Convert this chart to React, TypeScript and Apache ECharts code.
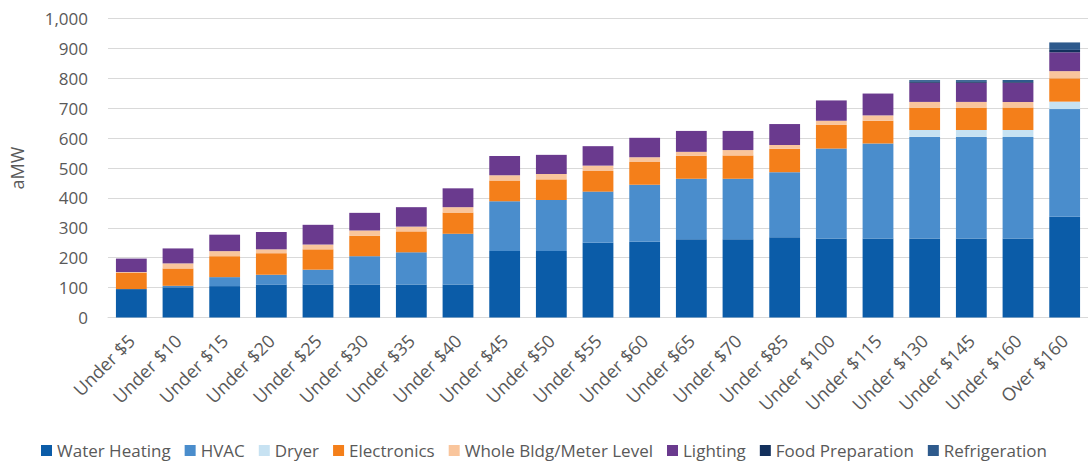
import React, { useEffect, useRef } from "react";
import * as echarts from "echarts";

const categories = [
  "Under $5", "Under $10", "Under $15", "Under $20", "Under $25", "Under $30", "Under $35",
  "Under $40", "Under $45", "Under $50", "Under $55", "Under $60", "Under $65", "Under $70",
  "Under $85", "Under $100", "Under $115", "Under $130", "Under $145", "Under $160", "Over $160",
];

const waterHeating = [95, 101, 105, 110, 110, 110, 110, 110, 222, 222, 250, 253, 262, 262, 268, 264, 264, 264, 264, 264, 337];
const hvac = [0, 5, 30, 33, 50, 95, 108, 170, 167, 171, 171, 191, 202, 202, 218, 301, 318, 340, 340, 340, 360];
const dryer = [0, 0, 0, 0, 0, 0, 0, 0, 0, 0, 0, 0, 0, 0, 0, 0, 0, 23, 23, 23, 25];
const electronics = [55, 58, 70, 72, 68, 68, 70, 71, 69, 69, 69, 76, 77, 78, 78, 79, 76, 75, 75, 75, 78];
const wholeBldg = [2, 17, 17, 13, 16, 18, 16, 18, 18, 18, 18, 16, 13, 18, 13, 14, 18, 19, 19, 19, 24];
const lighting = [45, 50, 55, 58, 66, 59, 65, 63, 64, 64, 65, 65, 70, 64, 70, 68, 73, 64, 64, 64, 63];
const foodPrep = [0, 0, 0, 0, 0, 0, 0, 0, 0, 0, 0, 0, 0, 0, 0, 0, 0, 3, 3, 3, 8];
const refrigeration = [0, 0, 0, 0, 0, 0, 0, 0, 0, 0, 0, 0, 0, 0, 0, 0, 0, 6, 6, 6, 25];

const yTicks = [0, 100, 200, 300, 400, 500, 600, 700, 800, 900, 1000];

const seriesDefs = [
  { name: "Water Heating", data: waterHeating, color: "#0B5CA8" },
  { name: "HVAC", data: hvac, color: "#4A8DCC" },
  { name: "Dryer", data: dryer, color: "#C7E2F2" },
  { name: "Electronics", data: electronics, color: "#F47F1A" },
  { name: "Whole Bldg/Meter Level", data: wholeBldg, color: "#F9C59C" },
  { name: "Lighting", data: lighting, color: "#6A3A8E" },
  { name: "Food Preparation", data: foodPrep, color: "#13305C" },
  { name: "Refrigeration", data: refrigeration, color: "#2E5A8C" },
];

const FONT = "'Open Sans', 'Noto Sans', sans-serif";
const TEXT = "#595959";

export default function App() {
  const ref = useRef<HTMLDivElement>(null);
  useEffect(() => {
    if (!ref.current) return;
    const chart = echarts.init(ref.current, null, { renderer: "svg" });
    chart.setOption({
      animation: false,
      backgroundColor: "#ffffff",
      textStyle: { fontFamily: FONT },
      grid: { left: 104, right: -3, top: 18.5, bottom: 145.5, containLabel: false },
      legend: {
        bottom: -1,
        left: "center",
        icon: "rect",
        itemWidth: 11,
        itemHeight: 11,
        itemGap: 14,
        textStyle: { color: TEXT, fontSize: 17, fontFamily: FONT },
        data: seriesDefs.map((s) => s.name),
      },
      xAxis: {
        type: "category",
        data: categories,
        axisLine: { lineStyle: { color: "#D9D9D9" } },
        axisTick: { show: false },
        axisLabel: { rotate: 45, color: TEXT, fontSize: 18, margin: 20, interval: 0, fontFamily: FONT },
      },
      yAxis: {
        type: "value",
        min: yTicks[0],
        max: yTicks[yTicks.length - 1],
        interval: 100,
        name: "aMW",
        nameLocation: "middle",
        nameGap: 82,
        nameTextStyle: { color: TEXT, fontSize: 18, fontFamily: FONT },
        axisLine: { show: false },
        axisTick: { show: false },
        splitLine: { lineStyle: { color: "#D9D9D9", width: 1 } },
        axisLabel: {
          color: TEXT,
          fontSize: 17,
          margin: 20,
          fontFamily: FONT,
          formatter: (v: number) => v.toLocaleString("en-US"),
        },
      },
      series: seriesDefs.map((s) => ({
        name: s.name,
        type: "bar",
        stack: "total",
        data: s.data,
        barCategoryGap: "34%",
        itemStyle: { color: s.color },
      })),
    });
    return () => chart.dispose();
  }, []);
  return <div ref={ref} style={{ position: "fixed", left: 0, top: 0, width: 1088, height: 463 }} />;
}
